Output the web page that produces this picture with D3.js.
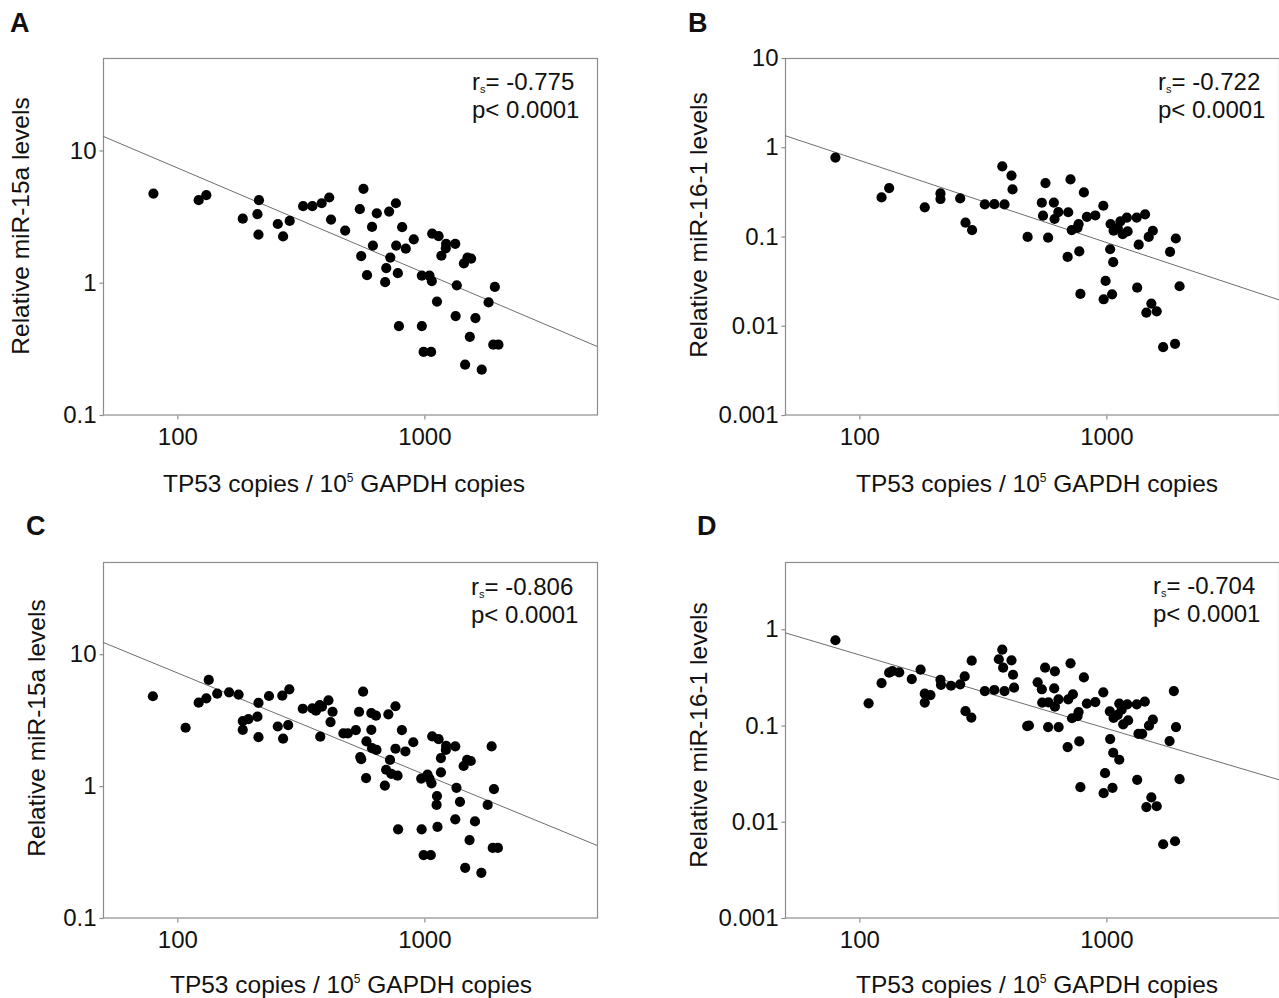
<!DOCTYPE html>
<html>
<head>
<meta charset="utf-8">
<script src="https://cdn.jsdelivr.net/npm/d3@7"></script>
<style>
  html, body { margin: 0; padding: 0; background: #fff; }
  svg { display: block; }
  text { font-family: "Liberation Sans", Arial, sans-serif; fill: #111; }
</style>
</head>
<body>
<svg id="fig" width="1279" height="998"></svg>
<script>
// TP53 expression (copies / 10^5 GAPDH) vs relative miRNA levels, [x, y] pairs
const miR15aCohort1 = [
  [80,4.72],[122,4.21],[131,4.59],[184,3.05],[211,3.30],[214,4.21],[213,2.31],[255,2.78],[268,2.24],[285,2.93],
  [323,3.79],[352,3.79],[384,3.99],[412,4.41],[419,3.0],[478,2.48],[548,3.6],[567,5.13],[642,3.35],[614,2.64],
  [619,1.91],[555,1.59],[586,1.14],[720,3.45],[767,3.99],[813,2.63],[769,1.91],[728,1.55],[701,1.29],[694,1.01],
  [781,1.18],[841,1.81],[906,2.13],[789,0.47],[977,0.47],[977,1.13],[1049,1.13],[1072,1.03],[1076,2.35],[1142,2.25],
  [1225,1.97],[1221,1.82],[1334,1.97],[1172,1.6],[1125,0.72],[993,0.30],[1065,0.30],[1353,0.955],[1339,0.56],[1446,1.40],
  [1495,1.55],[1546,1.52],[1528,0.39],[1462,0.24],[1610,0.54],[1707,0.22],[1820,0.71],[1929,0.93],[1901,0.34],[1995,0.34]
];
const miR161Cohort1 = [
  [80,0.766],[123,0.274],[132,0.349],[184,0.212],[213,0.304],[213,0.263],[256,0.267],[269,0.143],[286,0.118],[322,0.229],
  [352,0.23],[387,0.229],[379,0.612],[413,0.481],[417,0.337],[480,0.099],[548,0.239],[554,0.171],[567,0.397],[581,0.097],
  [613,0.24],[617,0.157],[639,0.188],[701,0.187],[716,0.436],[724,0.118],[764,0.125],[772,0.138],[811,0.312],[834,0.166],
  [902,0.172],[697,0.059],[777,0.068],[785,0.0227],[972,0.221],[1040,0.138],[1070,0.116],[1112,0.124],[1140,0.148],[1211,0.163],
  [1164,0.106],[1219,0.114],[1327,0.163],[1435,0.177],[1352,0.081],[1484,0.099],[1542,0.116],[1036,0.072],[1066,0.0515],[993,0.0318],
  [975,0.0198],[1055,0.0225],[1333,0.0267],[1521,0.0177],[1452,0.014],[1599,0.0145],[1811,0.0673],[1911,0.095],[1979,0.0277],[1698,0.00575],
  [1897,0.00628]
];
const miR15aCohort2 = [
  [79.6,4.8],[108,2.77],[122,4.29],[131,4.63],[134,6.38],[145,5.02],[162,5.14],[177,4.94],[184,3.11],[184,2.67],
  [194,3.22],[211,3.36],[213,4.27],[213,2.35],[235,4.82],[255,2.83],[266,4.85],[268,2.29],[281,2.9],[284,5.42],
  [322,3.86],[352,3.88],[364,3.73],[377,4.12],[385,4.0],[409,4.47],[425,3.66],[417,3.06],[379,2.37],[470,2.51],
  [490,2.51],[528,2.66],[544,3.66],[565,5.2],[610,3.58],[637,3.42],[610,2.67],[583,2.18],[550,1.66],[555,1.6],
  [614,1.94],[640,1.88],[581,1.15],[715,3.5],[764,4.03],[811,2.66],[764,1.92],[838,1.83],[902,2.15],[726,1.58],
  [700,1.33],[735,1.24],[779,1.2],[692,1.01],[783,0.47],[975,0.47],[971,1.14],[1030,1.22],[1049,1.14],[1069,1.05],
  [1076,2.38],[1142,2.27],[1225,2.02],[1222,1.88],[1334,2.0],[1167,1.63],[1167,1.27],[1125,0.84],[1121,0.72],[1130,0.49],
  [993,0.30],[1062,0.30],[1349,0.97],[1394,0.76],[1334,0.56],[1442,1.42],[1490,1.58],[1541,1.55],[1524,0.39],[1463,0.24],
  [1603,0.54],[1701,0.22],[1804,0.72],[1913,0.95],[1872,2.0],[1892,0.34],[1985,0.34]
];
const miR161Cohort2 = [
  [80,0.769],[109,0.17],[123,0.276],[132,0.354],[136,0.368],[145,0.357],[163,0.304],[177,0.38],[184,0.214],[184,0.173],
  [194,0.207],[213,0.299],[214,0.265],[235,0.259],[256,0.268],[267,0.324],[269,0.141],[284,0.121],[285,0.472],[322,0.228],
  [352,0.234],[387,0.228],[367,0.488],[379,0.614],[382,0.399],[413,0.476],[419,0.337],[423,0.247],[478,0.0986],[486,0.1],
  [527,0.281],[548,0.238],[565,0.399],[550,0.173],[583,0.174],[581,0.0963],[615,0.243],[619,0.366],[619,0.157],[640,0.187],
  [641,0.0963],[701,0.187],[716,0.443],[732,0.211],[726,0.119],[764,0.125],[772,0.138],[811,0.316],[834,0.169],[902,0.175],
  [697,0.0597],[777,0.0684],[785,0.0229],[972,0.221],[1033,0.14],[1070,0.12],[1112,0.129],[1128,0.169],[1153,0.146],[1170,0.103],
  [1225,0.113],[1216,0.166],[1328,0.166],[1431,0.177],[1349,0.082],[1397,0.082],[1488,0.0995],[1543,0.115],[1036,0.0723],[1066,0.0521],
  [1128,0.0441],[988,0.032],[975,0.0198],[1059,0.0225],[1333,0.0273],[1521,0.0179],[1452,0.0142],[1599,0.0145],[1803,0.0689],[1876,0.228],
  [1914,0.0963],[1979,0.0277],[1698,0.00584],[1897,0.00627]
];

// Fitted regression lines (log-log), given by their values at the x-range ends
const fitA = [[50, 12.8], [5000, 0.33]];
const fitB = [[50, 1.35], [5000, 0.0195]];
const fitC = [[50, 12.3], [5000, 0.355]];
const fitD = [[50, 0.92], [5000, 0.0273]];

// Axis settings
const xDomain = [50, 5000];
const xTicks = [100, 1000];
const yDomain15a = [0.1, 50];
const yTicks15a = [0.1, 1, 10];
const yDomain161B = [0.001, 10];
const yTicks161B = [0.001, 0.01, 0.1, 1, 10];
const yDomain161D = [0.001, 5];
const yTicks161D = [0.001, 0.01, 0.1, 1];

const panelLetters = ["A", "B", "C", "D"];
const yTitles = ["Relative miR-15a levels", "Relative miR-16-1 levels", "Relative miR-15a levels", "Relative miR-16-1 levels"];
const rsValues = ["-0.775", "-0.722", "-0.806", "-0.704"];
const pValues = ["p< 0.0001", "p< 0.0001", "p< 0.0001", "p< 0.0001"];

const panels = [
  { pts: miR15aCohort1, fit: fitA, yDom: yDomain15a, yTicks: yTicks15a,
    box: { x: 103, y: 58, w: 494, h: 357 }, letter: [10, 32], yTitle: [20, 226], xTitle: [344, 492], stat: [472, 90] },
  { pts: miR161Cohort1, fit: fitB, yDom: yDomain161B, yTicks: yTicks161B,
    box: { x: 785, y: 58, w: 494, h: 357 }, letter: [688, 32], yTitle: [698, 225], xTitle: [1037, 492], stat: [1158, 90] },
  { pts: miR15aCohort2, fit: fitC, yDom: yDomain15a, yTicks: yTicks15a,
    box: { x: 103, y: 562, w: 494, h: 356 }, letter: [26, 535], yTitle: [36, 728], xTitle: [351, 993], stat: [471, 595] },
  { pts: miR161Cohort2, fit: fitD, yDom: yDomain161D, yTicks: yTicks161D,
    box: { x: 785, y: 562, w: 494, h: 356 }, letter: [697, 535], yTitle: [698, 735], xTitle: [1037, 993], stat: [1153, 594] }
];

const svg = d3.select("#fig");
svg.append("rect").attr("width", 1279).attr("height", 998).attr("fill", "#fff");

const frameColor = "#8c8c8c";
const tickFont = 24;
const statFont = 24;
const titleFont = 24.5;

panels.forEach((p, i) => {
  const b = p.box;
  const x = d3.scaleLog().domain(xDomain).range([b.x, b.x + b.w]);
  const y = d3.scaleLog().domain(p.yDom).range([b.y + b.h, b.y]);
  const g = svg.append("g");

  // frame
  g.append("rect")
    .attr("x", b.x + 0.5).attr("y", b.y + 0.5)
    .attr("width", b.w).attr("height", b.h - 0.5)
    .attr("fill", "none").attr("stroke", frameColor).attr("stroke-width", 1.2);

  // axes
  const xAxis = g.append("g").attr("transform", `translate(0,${b.y + b.h + 0.5})`)
    .call(d3.axisBottom(x).tickValues(xTicks).tickFormat(d => String(d)).tickSize(4).tickPadding(8));
  const yAxis = g.append("g").attr("transform", `translate(${b.x + 0.5},0)`)
    .call(d3.axisLeft(y).tickValues(p.yTicks).tickFormat(d => String(d)).tickSize(4).tickPadding(3));
  [xAxis, yAxis].forEach(a => {
    a.select(".domain").remove();
    a.selectAll(".tick line").attr("stroke", frameColor).attr("stroke-width", 1.2);
    a.selectAll(".tick text")
      .style("font-family", '"Liberation Sans", Arial, sans-serif')
      .style("font-size", tickFont + "px").attr("fill", "#111");
  });

  // regression line
  g.append("path")
    .datum(p.fit)
    .attr("d", d3.line().x(d => x(d[0])).y(d => y(d[1])))
    .attr("fill", "none").attr("stroke", "#6e6e6e").attr("stroke-width", 1);

  // samples
  g.selectAll("circle.pt").data(p.pts).join("circle")
    .attr("class", "pt")
    .attr("cx", d => x(d[0])).attr("cy", d => y(d[1]))
    .attr("r", 5.1).attr("fill", "#000");

  // panel letter
  svg.append("text").attr("x", p.letter[0]).attr("y", p.letter[1])
    .style("font-size", "27px").style("font-weight", "bold").text(panelLetters[i]);

  // y-axis title
  svg.append("text")
    .attr("transform", `translate(${p.yTitle[0]},${p.yTitle[1]}) rotate(-90)`)
    .attr("text-anchor", "middle").attr("dominant-baseline", "central")
    .style("font-size", titleFont + "px").text(yTitles[i]);

  // x-axis title with superscript
  const xt = svg.append("text").attr("x", p.xTitle[0]).attr("y", p.xTitle[1])
    .attr("text-anchor", "middle").style("font-size", titleFont + "px");
  xt.append("tspan").text("TP53 copies / 10");
  xt.append("tspan").attr("dy", -10).style("font-size", "12px").text("5");
  xt.append("tspan").attr("dy", 10).text(" GAPDH copies");

  // correlation statistics: r_s on the first line, p-value below
  const st = svg.append("text").attr("x", p.stat[0]).attr("y", p.stat[1]).style("font-size", statFont + "px");
  st.append("tspan").text("r");
  st.append("tspan").attr("dy", 3).style("font-size", "11px").text("s");
  st.append("tspan").attr("dy", -3).text("= " + rsValues[i]);
  svg.append("text").attr("x", p.stat[0]).attr("y", p.stat[1] + 28)
    .style("font-size", statFont + "px").text(pValues[i]);
});
</script>
</body>
</html>
